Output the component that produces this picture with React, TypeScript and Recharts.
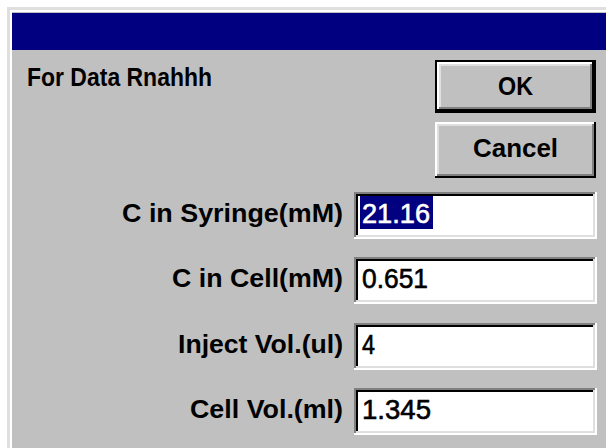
import React from 'react';
import { Surface, Layer, Rectangle } from 'recharts';

// dialog content
const heading = 'For Data Rnahhh';
const fieldLabels = ['C in Syringe(mM)', 'C in Cell(mM)', 'Inject Vol.(ul)', 'Cell Vol.(ml)'];
const fieldValues = ['21.16', '0.651', '4', '1.345'];
const buttonLabels = ['OK', 'Cancel'];

// measured text widths (layout only)
const labelWidths = [221, 171, 165, 153];
const valueWidths = [68, 66, 13, 69];
const buttonTextWidths = [35, 85];

const W = 606;
const H = 448;
const FACE = '#c0c0c0';
const NAVY = '#000080';
const FONT = '"Liberation Sans", Arial, sans-serif';

const ROW_TOP = 192;
const ROW_STEP = 65.3;
const BOX_X = 354;
const BOX_W = 243;
const BOX_H = 47;

// two-tone bevel strips: tl = top/left colour, br = bottom/right colour
const bevel = (key: string, x: number, y: number, w: number, h: number, tl: string, br: string, t = 2) => (
  <Layer key={key}>
    <Rectangle x={x} y={y} width={w} height={t} fill={tl} />
    <Rectangle x={x} y={y} width={t} height={h} fill={tl} />
    <Rectangle x={x} y={y + h - t} width={w} height={t} fill={br} />
    <Rectangle x={x + w - t} y={y} width={t} height={h} fill={br} />
  </Layer>
);

const Button = ({ label, idx }: { label: string; idx: number }) => {
  const isDefault = idx === 0;
  const x = 435;
  const y = isDefault ? 60 : 122;
  const w = 161;
  const h = isDefault ? 53 : 56;
  const ix = isDefault ? x + 2 : x;
  const iy = isDefault ? y + 2 : y;
  const iw = isDefault ? w - 4 : w;
  const ih = isDefault ? h - 4 : h;
  return (
    <Layer>
      <Rectangle x={x} y={y} width={w} height={h} fill={isDefault ? '#000' : FACE} />
      <Rectangle x={ix} y={iy} width={iw} height={ih} fill={FACE} />
      {bevel('o', ix, iy, iw, ih, '#ffffff', '#000000')}
      {bevel('i', ix + 2, iy + 2, iw - 4, ih - 4, '#dfdfdf', '#808080')}
      <text
        x={x + w / 2 - buttonTextWidths[idx] / 2}
        y={isDefault ? 95 : 157}
        fontFamily={FONT}
        fontWeight="bold"
        fontSize={25}
        fill="#000"
        textLength={buttonTextWidths[idx]}
        lengthAdjust="spacingAndGlyphs"
      >
        {label}
      </text>
    </Layer>
  );
};

const Field = ({ label, value, idx }: { label: string; value: string; idx: number }) => {
  const top = Math.round(ROW_TOP + idx * ROW_STEP);
  const selected = idx === 0;
  const ink = selected ? '#ffffff' : '#000';
  return (
    <Layer>
      <text
        x={343 - labelWidths[idx]}
        y={top + 30}
        fontFamily={FONT}
        fontWeight="bold"
        fontSize={26}
        fill="#000"
        textLength={labelWidths[idx]}
        lengthAdjust="spacingAndGlyphs"
      >
        {label}
      </text>
      <Rectangle x={BOX_X} y={top} width={BOX_W} height={BOX_H} fill="#ffffff" />
      {bevel('o', BOX_X, top, BOX_W, BOX_H, '#808080', '#ffffff')}
      {bevel('i', BOX_X + 2, top + 2, BOX_W - 4, BOX_H - 4, '#000000', '#dfdfdf')}
      {selected && <Rectangle x={360} y={top + 4} width={73} height={33} fill={NAVY} />}
      <text
        x={362}
        y={top + 31}
        fontFamily={FONT}
        fontSize={27}
        fill={ink}
        stroke={ink}
        strokeWidth={0.6}
        textLength={valueWidths[idx]}
        lengthAdjust="spacingAndGlyphs"
      >
        {value}
      </text>
    </Layer>
  );
};

export default function App() {
  return (
    <div style={{ position: 'absolute', left: 0, top: 0, width: W, height: H, background: '#fff' }}>
      <Surface width={W} height={H}>
        <Rectangle x={0} y={0} width={W} height={H} fill="#ffffff" />
        {/* window frame */}
        <Rectangle x={7} y={7} width={W - 7} height={H - 7} fill="#dfdfdf" />
        <Rectangle x={10} y={10} width={W - 10} height={H - 10} fill="#ffffff" />
        <Rectangle x={12} y={12} width={W - 12} height={H - 12} fill={FACE} />
        {/* title bar */}
        <Rectangle x={12} y={13} width={W - 12} height={37} fill={NAVY} />
        <text
          x={27}
          y={86}
          fontFamily={FONT}
          fontWeight="bold"
          fontSize={26}
          fill="#000"
          textLength={185}
          lengthAdjust="spacingAndGlyphs"
        >
          {heading}
        </text>
        {buttonLabels.map((b, i) => (
          <Button key={b} label={b} idx={i} />
        ))}
        {fieldLabels.map((l, i) => (
          <Field key={l} label={l} value={fieldValues[i]} idx={i} />
        ))}
      </Surface>
    </div>
  );
}
